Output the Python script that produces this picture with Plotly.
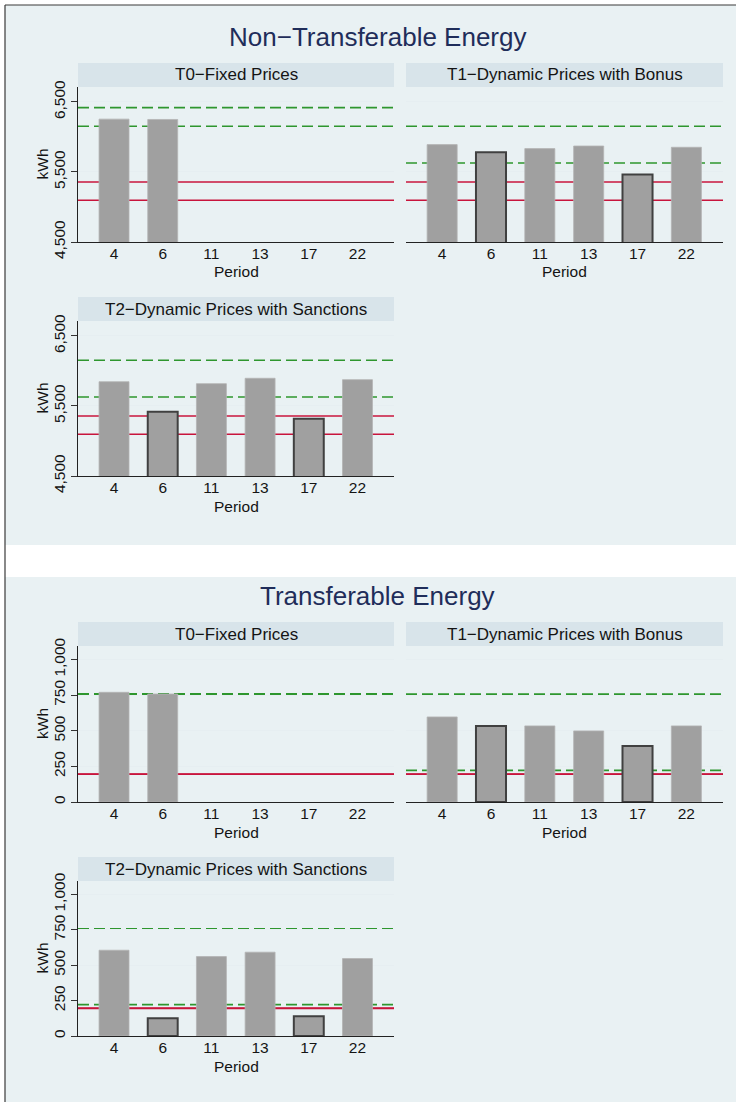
import plotly.graph_objects as go

# ---- data -------------------------------------------------------------
periods = ["4", "6", "11", "13", "17", "22"]
highlighted = ["6", "17"]          # periods drawn with a dark outline
t0_periods = ["4", "6"]

treatments = [
    "T0−Fixed Prices",
    "T1−Dynamic Prices with Bonus",
    "T2−Dynamic Prices with Sanctions",
]

# Non-transferable energy, kWh
nt_t0 = [6255, 6250]
nt_t1 = [5891, 5781, 5834, 5871, 5463, 5853]
nt_t2 = [5847, 5419, 5819, 5896, 5319, 5876]
nt_green_t0 = [6420, 6153]
nt_green_t1 = [6153, 5629]
nt_green_t2 = [6153, 5629]
nt_red = [5357, 5096]
nt_ticks = [4500, 5500, 6500]

# Transferable energy, kWh
tr_t0 = [770, 758]
tr_t1 = [597, 534, 534, 499, 393, 534]
tr_t2 = [606, 125, 561, 592, 139, 547]
tr_green_t0 = [760, 757]
tr_green_t1 = [757, 222]
tr_green_t2 = [757, 222]
tr_red = [197, 194]
tr_ticks = [0, 250, 500, 750, 1000]

# ---- layout helpers ---------------------------------------------------
W, H = 736, 1102
FONT = "Liberation Sans, Arial, Helvetica, sans-serif"
BG = "#e9f1f3"
STRIP = "#d8e4ea"
BAR = "#a0a0a0"
GREEN = "#2e962e"
RED = "#c8143c"
TXT = "#141414"


def fx(p):
    return p / W


def fy(p):
    return 1 - p / H


# (section, treatment index, x0, x1, top, bottom) in pixels
panels = [
    ("nt", 0, 78, 394, 87, 242),
    ("nt", 1, 406, 723, 87, 242),
    ("nt", 2, 78, 394, 321, 476),
    ("tr", 0, 78, 394, 646, 802),
    ("tr", 1, 406, 723, 646, 802),
    ("tr", 2, 78, 394, 881, 1036),
]

series = {
    ("nt", 0): (t0_periods, nt_t0, nt_green_t0, nt_red),
    ("nt", 1): (periods, nt_t1, nt_green_t1, nt_red),
    ("nt", 2): (periods, nt_t2, nt_green_t2, nt_red),
    ("tr", 0): (t0_periods, tr_t0, tr_green_t0, tr_red),
    ("tr", 1): (periods, tr_t1, tr_green_t1, tr_red),
    ("tr", 2): (periods, tr_t2, tr_green_t2, tr_red),
}

yranges = {"nt": [4500, 6714], "tr": [0, 1095]}
yticks = {"nt": nt_ticks, "tr": tr_ticks}

fig = go.Figure()
shapes = []
annotations = []

# section backgrounds and frame
shapes.append(dict(type="rect", xref="paper", yref="paper", x0=fx(5), x1=1,
                   y0=fy(545), y1=fy(5), fillcolor=BG, line_width=0, layer="below"))
shapes.append(dict(type="rect", xref="paper", yref="paper", x0=fx(5), x1=1,
                   y0=0, y1=fy(577), fillcolor=BG, line_width=0, layer="below"))
shapes.append(dict(type="line", xref="paper", yref="paper", x0=fx(5), x1=1,
                   y0=fy(5), y1=fy(5), line=dict(color="#3a3a3a", width=1.2)))
shapes.append(dict(type="line", xref="paper", yref="paper", x0=fx(5), x1=fx(5),
                   y0=0, y1=fy(5), line=dict(color="#3a3a3a", width=1.2)))

# section titles
for text, yc in [("Non−Transferable Energy", 37), ("Transferable Energy", 596)]:
    annotations.append(dict(text=text, x=fx(377), y=fy(yc), xref="paper", yref="paper",
                            showarrow=False, xanchor="center", yanchor="middle",
                            font=dict(family=FONT, size=26, color="#1f2d5a")))

for i, (sec, ti, x0, x1, top, bot) in enumerate(panels, start=1):
    sfx = "" if i == 1 else str(i)
    xa, ya = "x" + sfx, "y" + sfx
    cats, vals, greens, reds = series[(sec, ti)]
    left_col = x0 < 200

    line_colors = ["#404040" if c in highlighted and ti > 0 else "#b4b4b4" for c in cats]
    line_widths = [2 if c in highlighted and ti > 0 else 0.8 for c in cats]

    fig.add_trace(go.Bar(
        x=cats, y=vals, xaxis=xa, yaxis=ya, width=0.615,
        marker=dict(color=BAR, line=dict(color=line_colors, width=line_widths)),
        showlegend=False, hoverinfo="x+y",
    ))

    for g in greens:
        shapes.append(dict(type="line", xref=xa + " domain", yref=ya, x0=0, x1=1,
                           y0=g, y1=g, layer="below",
                           line=dict(color=GREEN, width=1.6, dash="11px,5px")))
    for r in reds:
        shapes.append(dict(type="line", xref=xa + " domain", yref=ya, x0=0, x1=1,
                           y0=r, y1=r, layer="below",
                           line=dict(color=RED, width=1.5)))

    # strip header
    shapes.append(dict(type="rect", xref="paper", yref="paper", x0=fx(x0), x1=fx(x1),
                       y0=fy(top), y1=fy(top - 24), fillcolor=STRIP, line_width=0))
    annotations.append(dict(text=treatments[ti], x=fx((x0 + x1) / 2), y=fy(top - 12),
                            xref="paper", yref="paper", showarrow=False,
                            xanchor="center", yanchor="middle",
                            font=dict(family=FONT, size=17, color=TXT)))

    # axis titles
    annotations.append(dict(text="Period", x=fx((x0 + x1) / 2), y=fy(bot + 30),
                            xref="paper", yref="paper", showarrow=False,
                            xanchor="center", yanchor="middle",
                            font=dict(family=FONT, size=15.5, color=TXT)))
    if left_col:
        annotations.append(dict(text="kWh", x=fx(42), y=fy((top + bot) / 2),
                                xref="paper", yref="paper", showarrow=False,
                                textangle=-90, xanchor="center", yanchor="middle",
                                font=dict(family=FONT, size=15.5, color=TXT)))

    fig.layout["xaxis" + sfx] = dict(
        domain=[fx(x0), fx(x1)], anchor=ya, type="category",
        categoryorder="array", categoryarray=periods, range=[-0.74, 5.75],
        showgrid=False, zeroline=False, showline=True, linecolor="#222222",
        linewidth=1.2, ticks="", fixedrange=True, automargin=False,
        ticklabelstandoff=-3,
        tickfont=dict(family=FONT, size=15.5, color=TXT),
    )
    fig.layout["yaxis" + sfx] = dict(
        domain=[fy(bot), fy(top)], anchor=xa, range=yranges[sec],
        tickvals=yticks[sec], tickformat=",d", tickangle=-90,
        showticklabels=left_col, ticks="outside" if left_col else "",
        ticklen=6, tickcolor="#333333", showline=left_col, linecolor="#222222",
        linewidth=1.2, showgrid=True, gridcolor="#e6eef1", gridwidth=1.2,
        zeroline=False, fixedrange=True, automargin=False,
        tickfont=dict(family=FONT, size=15.5, color=TXT),
    )

fig.update_layout(
    width=W, height=H, margin=dict(l=0, r=0, t=0, b=0, pad=0, autoexpand=False),
    paper_bgcolor="white", plot_bgcolor="white",
    bargap=0.38, shapes=shapes, annotations=annotations,
    font=dict(family=FONT, color=TXT),
)

fig.write_html("out.html")
